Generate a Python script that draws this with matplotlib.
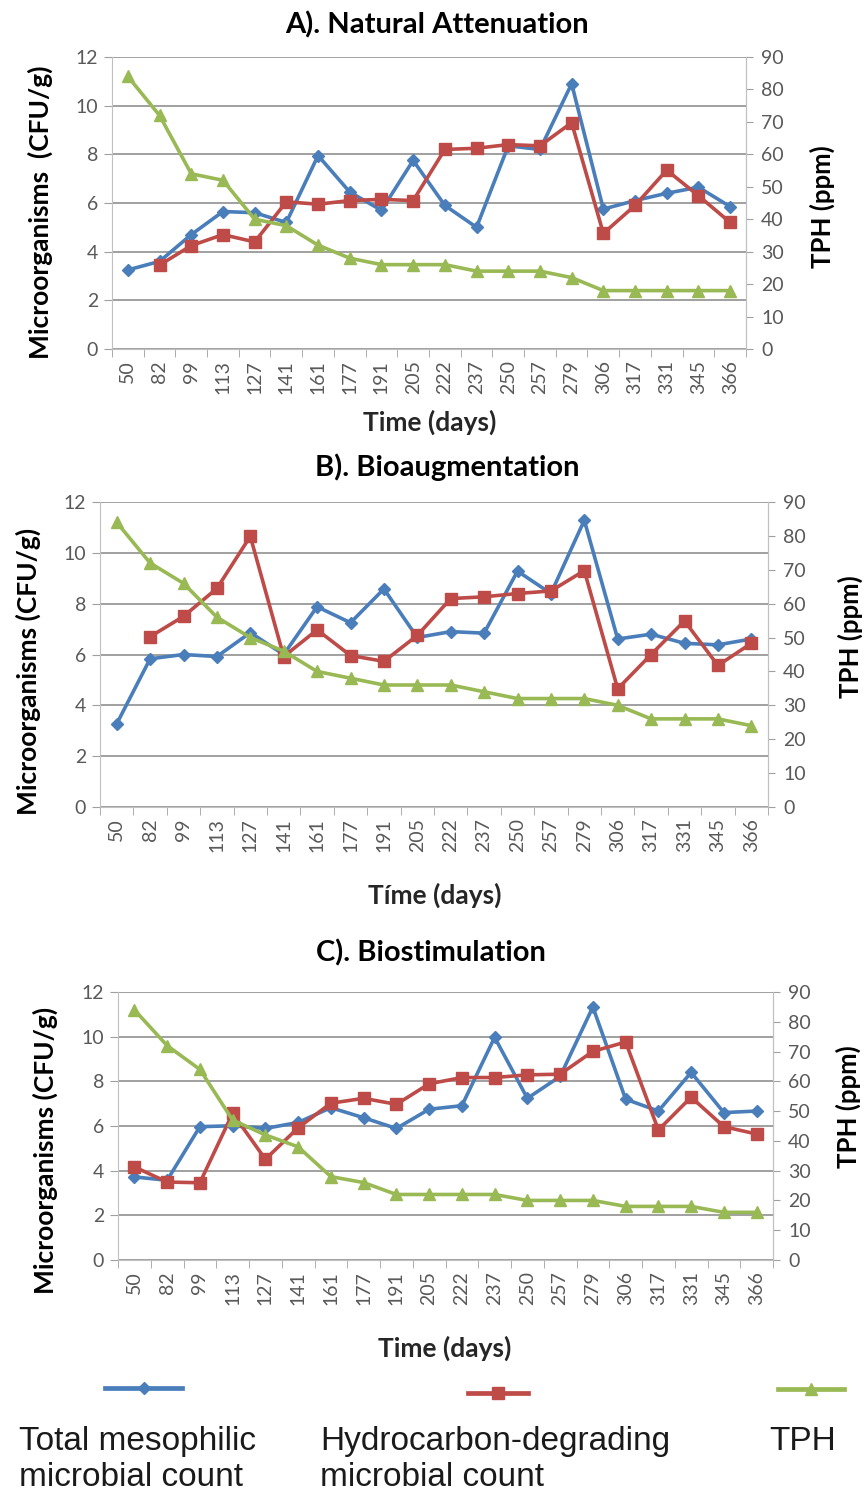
import matplotlib
matplotlib.use('Agg')
import matplotlib.pyplot as plt
from matplotlib.lines import Line2D

# sampling days (categorical axis)
days = ['50', '82', '99', '113', '127', '141', '161', '177', '191', '205',
        '222', '237', '250', '257', '279', '306', '317', '331', '345', '366']

# A) natural attenuation
nat_total = [3.25, 3.6, 4.7, 5.65, 5.6, 5.2, 7.95, 6.45, 5.7, 7.75,
             5.9, 5.0, 8.35, 8.2, 10.9, 5.75, 6.1, 6.4, 6.65, 5.85]
nat_hc = [None, 3.45, 4.25, 4.7, 4.4, 6.05, 5.95, 6.1, 6.15, 6.1,
          8.2, 8.25, 8.4, 8.35, 9.3, 4.75, 5.9, 7.35, 6.3, 5.2]
nat_tph = [84, 72, 54, 52, 40, 38, 32, 28, 26, 26,
           26, 24, 24, 24, 22, 18, 18, 18, 18, 18]

# B) bioaugmentation
bio_total = [3.27, 5.83, 6.0, 5.92, 6.86, 6.0, 7.88, 7.25, 8.58, 6.67,
             6.9, 6.84, 9.28, 8.4, 11.28, 6.61, 6.8, 6.44, 6.38, 6.61]
bio_hc = [None, 6.7, 7.5, 8.6, 10.65, 5.92, 6.97, 5.96, 5.73, 6.75,
          8.2, 8.27, 8.4, 8.5, 9.3, 4.65, 6.0, 7.32, 5.57, 6.44]
bio_tph = [84, 72, 66, 56, 50, 46, 40, 38, 36, 36,
           36, 34, 32, 32, 32, 30, 26, 26, 26, 24]

# C) biostimulation
sti_total = [3.72, 3.57, 5.97, 6.01, 5.89, 6.16, 6.82, 6.37, 5.89, 6.75,
             6.91, 9.97, 7.24, 8.22, 11.33, 7.2, 6.67, 8.4, 6.6, 6.67]
sti_hc = [4.17, 3.49, 3.46, 6.57, 4.51, 5.92, 7.02, 7.24, 6.97, 7.89,
          8.17, 8.17, 8.29, 8.32, 9.34, 9.76, 5.82, 7.29, 5.97, 5.64]
sti_tph = [84, 72, 64, 47, 42, 38, 28, 26, 22, 22,
           22, 22, 20, 20, 20, 18, 18, 18, 16, 16]

titles = ['A). Natural Attenuation', 'B). Bioaugmentation', 'C). Biostimulation']
ylabels = ['Microorganisms  (CFU/g)', 'Microorganisms (CFU/g)', 'Microorganisms (CFU/g)']
xlabels = ['Time (days)', 'Tíme (days)', 'Time (days)']
legend_labels = ['Total mesophilic\nmicrobial count',
                 'Hydrocarbon-degrading\nmicrobial count', 'TPH']

BLUE = '#4a7ebb'
RED = '#be4b48'
GREEN = '#98b954'
GRID = '#a0a0a0'
TICK = '#595959'
FONT = ['Lato', 'DejaVu Sans']

plt.rcParams['font.family'] = FONT

W, H = 865, 1496
fig = plt.figure(figsize=(W / 100, H / 100), dpi=100)
fig.patch.set_facecolor('white')


def px_rect(x0, y0, x1, y1):
    return [x0 / W, 1 - y1 / H, (x1 - x0) / W, (y1 - y0) / H]


def label_at(x, y, s, size, rot=0, color='black'):
    fig.text(x / W, 1 - y / H, s, ha='center', va='center', rotation=rot,
             fontsize=size, fontweight='bold', color=color)


def to_float(vals):
    return [float('nan') if v is None else v for v in vals]


def panel(rect, total, hc, tph):
    ax = fig.add_axes(px_rect(*rect))
    x = list(range(len(days)))

    ax.plot(x, to_float(total), color=BLUE, lw=2.6, marker='D', ms=6.5,
            mfc=BLUE, mec=BLUE, zorder=3)
    ax.plot(x, to_float(hc), color=RED, lw=2.6, marker='s', ms=9,
            mfc=RED, mec=RED, zorder=4)

    ax.set_xlim(-0.5, len(days) - 0.5)
    ax.set_ylim(0, 12)
    ax.set_yticks(range(0, 13, 2))
    ax.yaxis.grid(True, color=GRID, lw=1.4)
    ax.set_axisbelow(True)

    ax.set_xticks(x)
    ax.set_xticklabels(days, rotation=90, color=TICK, fontsize=14)
    ax.set_xticks([i - 0.5 for i in range(len(days) + 1)], minor=True)
    ax.tick_params(axis='x', which='major', length=0, pad=8)
    ax.tick_params(axis='x', which='minor', length=6, color=GRID, direction='out')
    ax.tick_params(axis='y', length=6, color=GRID, labelcolor=TICK,
                   labelsize=14, pad=4)

    for s in ax.spines.values():
        s.set_color('#c0c0c0')
    ax.spines['top'].set_visible(False)

    ax2 = ax.twinx()
    ax2.plot(x, tph, color=GREEN, lw=2.6, marker='^', ms=8.5,
             mfc=GREEN, mec=GREEN, zorder=5)
    ax2.set_ylim(0, 90)
    ax2.set_yticks(range(0, 91, 10))
    ax2.tick_params(axis='y', length=5, color=GRID, labelcolor=TICK,
                    labelsize=14, pad=6)
    for s in ax2.spines.values():
        s.set_visible(False)
    ax2.spines['right'].set_visible(True)
    ax2.spines['right'].set_color('#c0c0c0')
    return ax


panel((112, 57, 746, 349), nat_total, nat_hc, nat_tph)
panel((100, 502, 768, 807), bio_total, bio_hc, bio_tph)
panel((118, 992, 773, 1260), sti_total, sti_hc, sti_tph)

# titles, axis titles (pixel positions on the page)
for (tx, ty), s in zip([(437, 25), (447, 467), (431, 953)], titles):
    label_at(tx, ty, s, 21)
for (tx, ty), s in zip([(430, 422), (435, 895), (445, 1348)], xlabels):
    label_at(tx, ty, s, 19, color='#262626')
for (tx, ty), s in zip([(40, 212), (28, 671), (45, 1150)], ylabels):
    label_at(tx, ty, s, 19, rot=90)
for (tx, ty) in [(822, 207), (850, 637), (848, 1107)]:
    label_at(tx, ty, 'TPH (ppm)', 18.5, rot=90)

# legend along the bottom: sample line above each label
leg = fig.add_axes([0, 0, 1, 1], facecolor='none')
leg.set_xlim(0, W)
leg.set_ylim(H, 0)
leg.axis('off')
handles = [
    ((105, 182), 1388, BLUE, 'D', 6.5),
    ((468, 528), 1393, RED, 's', 9),
    ((778, 844), 1389, GREEN, '^', 8.5),
]
for (xs, yy, c, m, ms) in handles:
    leg.add_line(Line2D(list(xs), [yy, yy], color=c, lw=3.4))
    leg.add_line(Line2D([sum(xs) / 2], [yy], color=c, marker=m, ms=ms,
                        mfc=c, mec=c))
for xt, label in zip([19, 320, 769], legend_labels):
    leg.text(xt, 1426, label, ha='left', va='top', fontsize=24,
             family=['Liberation Sans'], color='#1a1a1a', linespacing=1.2)

fig.savefig('out.png', dpi=100)
